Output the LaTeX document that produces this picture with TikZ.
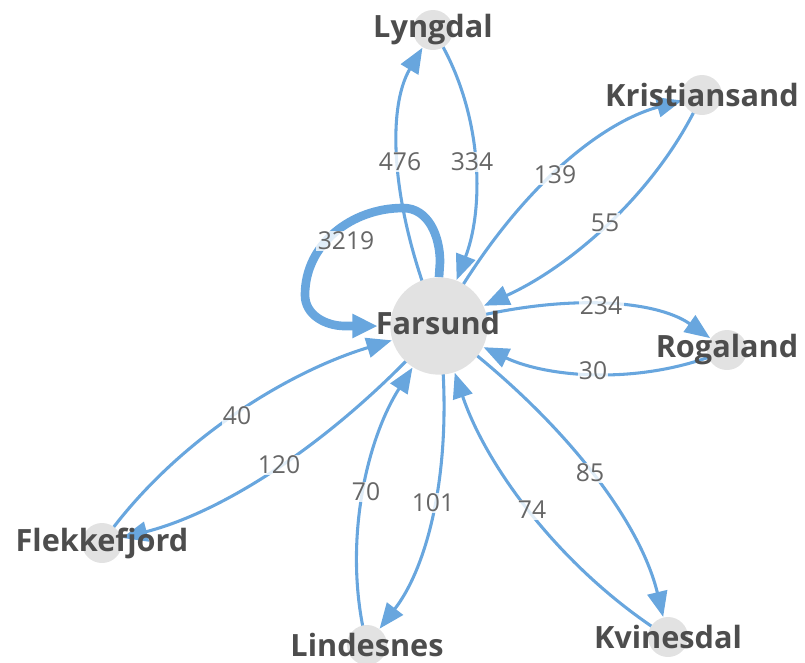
\documentclass[tikz,border=0pt]{standalone}
\usepackage{fontspec}
\setmainfont{Open Sans}
\usetikzlibrary{arrows.meta,calc}
\pgfdeclarelayer{background}
\pgfsetlayers{background,main}
\definecolor{edgeblue}{RGB}{104,166,222}
\definecolor{nodegray}{RGB}{226,226,226}
\definecolor{nametext}{RGB}{77,77,77}
\definecolor{numtext}{RGB}{102,102,102}
\tikzset{
  smallnode/.style={circle,fill=nodegray,minimum size=30pt,inner sep=0pt},
  bignode/.style={circle,fill=nodegray,minimum size=73pt,inner sep=0pt},
  nm/.style={text=nametext,font=\bfseries\fontsize{23}{25}\selectfont,inner sep=0pt},
  num/.style={text=numtext,font=\fontsize{18.5}{20}\selectfont,fill=white,fill opacity=0.8,text opacity=1,inner sep=1pt},
  edge/.style={draw=edgeblue,line width=2.3pt,-{Triangle[length=19pt,width=15pt]}},
  toF/.style={edge,shorten >=37pt},
  toS/.style={edge,shorten >=15.5pt},
  loopedge/.style={draw=edgeblue,line width=6.5pt,shorten >=46pt,-{Triangle[length=19pt,width=17pt]}}
}
\begin{document}
\begin{tikzpicture}[x=0.75pt,y=-0.75pt]
\useasboundingbox (0,0) rectangle (805,662);
% nodes
\node[bignode] (F) at (439,326) {};
\node[smallnode,label={[nm]center:Lyngdal}] (Ly) at (433,30) {};
\node[smallnode,label={[nm]center:Kristiansand}] (Kr) at (702,95) {};
\node[smallnode,label={[nm]center:Rogaland}] (Ro) at (727,350) {};
\node[smallnode,label={[nm]center:Kvinesdal}] (Kv) at (668,637) {};
\node[smallnode,label={[nm]center:Lindesnes}] (Li) at (367,645) {};
\node[smallnode,label={[nm]center:Flekkefjord}] (Fk) at (102,543) {};
% control points
\coordinate (q1) at (364,146);
\coordinate (q2) at (508,146);
\coordinate (q3) at (539.5,139.5);
\coordinate (q4) at (639.5,235.5);
\coordinate (q5) at (619,274);
\coordinate (q6) at (603,404);
\coordinate (q7) at (626.5,464.5);
\coordinate (q8) at (510.5,538.5);
\coordinate (q9) at (463,520.5);
\coordinate (q10) at (329,498.5);
\coordinate (q11) at (287.5,495.5);
\coordinate (q12) at (203.5,397.5);
\begin{pgfonlayer}{background}
\draw[toS] (F.center) .. controls ($(F.center)!0.6667!(q1)$) and ($(Ly.center)!0.6667!(q1)$) .. (Ly.center);
\draw[toF] (Ly.center) .. controls ($(Ly.center)!0.6667!(q2)$) and ($(F.center)!0.6667!(q2)$) .. (F.center);
\draw[toS] (F.center) .. controls ($(F.center)!0.6667!(q3)$) and ($(Kr.center)!0.6667!(q3)$) .. (Kr.center);
\draw[toF] (Kr.center) .. controls ($(Kr.center)!0.6667!(q4)$) and ($(F.center)!0.6667!(q4)$) .. (F.center);
\draw[toS] (F.center) .. controls ($(F.center)!0.6667!(q5)$) and ($(Ro.center)!0.6667!(q5)$) .. (Ro.center);
\draw[toF] (Ro.center) .. controls ($(Ro.center)!0.6667!(q6)$) and ($(F.center)!0.6667!(q6)$) .. (F.center);
\draw[toS] (F.center) .. controls ($(F.center)!0.6667!(q7)$) and ($(Kv.center)!0.6667!(q7)$) .. (Kv.center);
\draw[toF] (Kv.center) .. controls ($(Kv.center)!0.6667!(q8)$) and ($(F.center)!0.6667!(q8)$) .. (F.center);
\draw[toS] (F.center) .. controls ($(F.center)!0.6667!(q9)$) and ($(Li.center)!0.6667!(q9)$) .. (Li.center);
\draw[toF] (Li.center) .. controls ($(Li.center)!0.6667!(q10)$) and ($(F.center)!0.6667!(q10)$) .. (F.center);
\draw[toS] (F.center) .. controls ($(F.center)!0.6667!(q11)$) and ($(Fk.center)!0.6667!(q11)$) .. (Fk.center);
\draw[toF] (Fk.center) .. controls ($(Fk.center)!0.6667!(q12)$) and ($(F.center)!0.6667!(q12)$) .. (F.center);
\end{pgfonlayer}
% self loop (over the circle, under the name)
\draw[loopedge] (F.north) -- (440,262) to[out=90,in=0] (403,208) to[out=180,in=90] (305,295) to[out=-90,in=180] (345,326) -- (F.center);
\node[nm] (Fn) at (438,323) {Farsund};
% edge labels
\node[num] (n1) at (400,162) {476};
\node[num] (n2) at (472,162) {334};
\node[num] (n3) at (555,175) {139};
\node[num] (n4) at (605,223) {55};
\node[num] (n5) at (601,306) {234};
\node[num] (n6) at (593,371) {30};
\node[num] (n7) at (590,473) {85};
\node[num] (n8) at (532,510) {74};
\node[num] (n9) at (433,503) {101};
\node[num] (n10) at (366,492) {70};
\node[num] (n11) at (279,465) {120};
\node[num] (n12) at (237,416) {40};
\node[num] (n13) at (346,241) {3219};
\end{tikzpicture}
\end{document}
